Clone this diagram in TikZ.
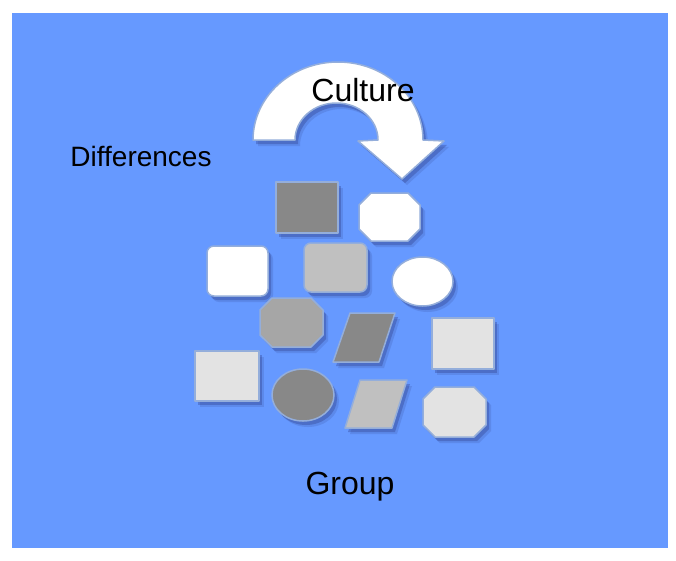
\documentclass[tikz,border=0pt]{standalone}
\usepackage{fontspec}
\setmainfont{Liberation Sans}
\usetikzlibrary{shadows}
\definecolor{bg}{RGB}{102,153,255}
\definecolor{edge}{RGB}{148,174,219}
\definecolor{gdark}{RGB}{136,136,136}
\definecolor{gmid}{RGB}{166,166,166}
\definecolor{glight}{RGB}{192,192,192}
\definecolor{gpale}{RGB}{227,227,227}
\definecolor{shadowc}{RGB}{40,50,120}
\tikzset{
  shp/.style={draw=edge, line width=1.5pt, line join=round,
    drop shadow={shadow xshift=5pt, shadow yshift=-6pt, fill=shadowc, opacity=0.15},
    drop shadow={shadow xshift=3pt, shadow yshift=-4pt, fill=shadowc, opacity=0.3}},
  lbl/.style={inner sep=0pt, text=black}
}
\newcommand{\octa}[5]{% x1 y1 x2 y2 fill
  \draw[shp, fill=#5] (#1+12,#2) -- (#3-12,#2) -- (#3,#2+12) -- (#3,#4-12) -- (#3-12,#4) -- (#1+12,#4) -- (#1,#4-12) -- (#1,#2+12) -- cycle;}
\begin{document}
\begin{tikzpicture}[x=1pt,y=-1pt]
\useasboundingbox (0,0) rectangle (676,560);
\fill[bg] (12,13) rectangle (668,548);
% curved arrow
\draw[shp, fill=white] (253,140) arc[start angle=180, end angle=360, x radius=85, y radius=78]
  -- (444,141) -- (402,179) -- (358,141) -- (378,140)
  arc[start angle=0, end angle=-180, x radius=41.5, y radius=37] -- cycle;
\node[lbl, font=\fontsize{32}{38}\selectfont] (culture) at (363,90) {Culture};
\node[lbl, font=\fontsize{28}{34}\selectfont] (diff) at (141,156) {Differences};
\node[lbl, font=\fontsize{32}{38}\selectfont] (group) at (350,487) {Group};
% shapes
\draw[shp, fill=gdark] (276,182) rectangle (338,233);
\octa{359}{193}{420}{241}{white}
\draw[shp, fill=white, rounded corners=7pt] (207,246) rectangle (268,296);
\draw[shp, fill=glight, rounded corners=7pt] (304,243) rectangle (367,292);
\draw[shp, fill=white] (422.5,281.5) ellipse[x radius=30.5, y radius=24.5];
\octa{260}{298}{323}{347}{gmid}
\draw[shp, fill=gdark] (350,313) -- (395,313) -- (379,362) -- (333,362) -- cycle;
\draw[shp, fill=gpale] (432,318) rectangle (494,369);
\draw[shp, fill=gpale] (195,351) rectangle (259,401);
\draw[shp, fill=gdark] (303,395) ellipse[x radius=31, y radius=26];
\draw[shp, fill=glight] (360,380) -- (407,380) -- (392,428) -- (345,428) -- cycle;
\octa{423}{387}{486}{437}{gpale}
\end{tikzpicture}
\end{document}
